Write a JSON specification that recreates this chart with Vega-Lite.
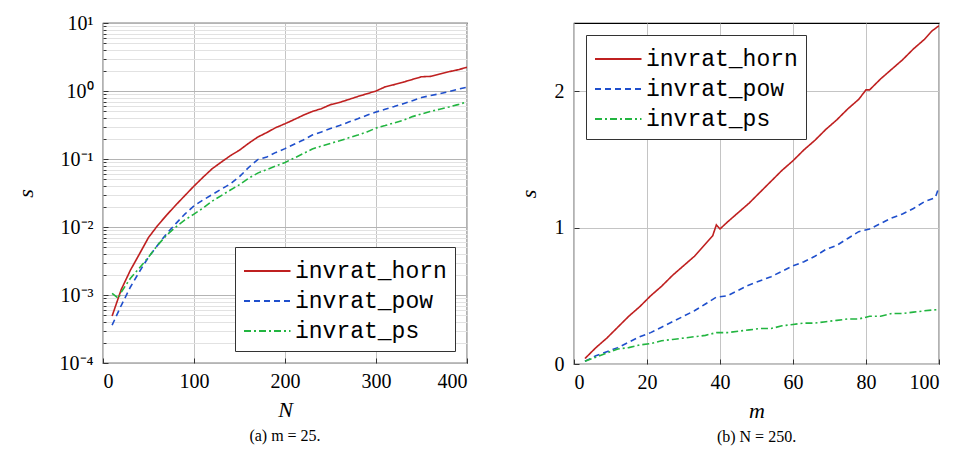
{
  "$schema": "https://vega.github.io/schema/vega-lite/v6.json",
  "padding": {"left": 13, "top": 12, "right": 0, "bottom": 0},
  "bounds": "flush",
  "spacing": 107,
  "config": {
    "view": {"stroke": "black", "strokeWidth": 1.2},
    "axis": {"labelFont": "Liberation Serif", "labelFontSize": 20, "labelColor": "black", "titleFont": "Liberation Serif", "titleFontStyle": "italic", "titleFontWeight": "normal", "titleFontSize": 22, "titleColor": "black", "domain": false, "ticks": true, "tickSize": -5, "tickColor": "#333", "labelOverlap": false},
    "title": {"font": "Liberation Serif", "fontSize": 16, "fontWeight": "normal", "color": "black"},
    "legend": {"title": null, "offset": 12, "fillColor": "white", "strokeColor": "#333", "padding": 8, "labelFont": "Liberation Mono", "labelFontSize": 23, "labelColor": "black", "symbolType": "M-1,0H2.1", "symbolSize": 900, "symbolStrokeWidth": 2, "symbolFillColor": "transparent", "labelOffset": 20, "rowPadding": 2}
  },
  "resolve": {"scale": {"color": "independent", "strokeDash": "independent"}, "legend": {"color": "independent", "strokeDash": "independent"}},
  "hconcat": [
    {
      "width": 364,
      "height": 340,
      "title": {"text": "(a) m = 25.", "orient": "bottom", "offset": 8},
      "data": {"values": [
        {"N": 10, "s": 0.00049, "k": "invrat_horn"},
        {"N": 20, "s": 0.0012, "k": "invrat_horn"},
        {"N": 30, "s": 0.0023, "k": "invrat_horn"},
        {"N": 40, "s": 0.0040, "k": "invrat_horn"},
        {"N": 50, "s": 0.0070, "k": "invrat_horn"},
        {"N": 60, "s": 0.0105, "k": "invrat_horn"},
        {"N": 70, "s": 0.015, "k": "invrat_horn"},
        {"N": 80, "s": 0.021, "k": "invrat_horn"},
        {"N": 90, "s": 0.029, "k": "invrat_horn"},
        {"N": 100, "s": 0.040, "k": "invrat_horn"},
        {"N": 110, "s": 0.054, "k": "invrat_horn"},
        {"N": 120, "s": 0.072, "k": "invrat_horn"},
        {"N": 130, "s": 0.090, "k": "invrat_horn"},
        {"N": 140, "s": 0.112, "k": "invrat_horn"},
        {"N": 150, "s": 0.135, "k": "invrat_horn"},
        {"N": 160, "s": 0.17, "k": "invrat_horn"},
        {"N": 170, "s": 0.21, "k": "invrat_horn"},
        {"N": 180, "s": 0.245, "k": "invrat_horn"},
        {"N": 190, "s": 0.29, "k": "invrat_horn"},
        {"N": 200, "s": 0.33, "k": "invrat_horn"},
        {"N": 210, "s": 0.38, "k": "invrat_horn"},
        {"N": 220, "s": 0.44, "k": "invrat_horn"},
        {"N": 230, "s": 0.50, "k": "invrat_horn"},
        {"N": 240, "s": 0.55, "k": "invrat_horn"},
        {"N": 250, "s": 0.63, "k": "invrat_horn"},
        {"N": 260, "s": 0.68, "k": "invrat_horn"},
        {"N": 270, "s": 0.75, "k": "invrat_horn"},
        {"N": 280, "s": 0.83, "k": "invrat_horn"},
        {"N": 290, "s": 0.91, "k": "invrat_horn"},
        {"N": 300, "s": 1.0, "k": "invrat_horn"},
        {"N": 310, "s": 1.15, "k": "invrat_horn"},
        {"N": 320, "s": 1.24, "k": "invrat_horn"},
        {"N": 330, "s": 1.35, "k": "invrat_horn"},
        {"N": 340, "s": 1.48, "k": "invrat_horn"},
        {"N": 350, "s": 1.62, "k": "invrat_horn"},
        {"N": 360, "s": 1.64, "k": "invrat_horn"},
        {"N": 370, "s": 1.78, "k": "invrat_horn"},
        {"N": 380, "s": 1.92, "k": "invrat_horn"},
        {"N": 390, "s": 2.05, "k": "invrat_horn"},
        {"N": 400, "s": 2.23, "k": "invrat_horn"},
        {"N": 10, "s": 0.00036, "k": "invrat_pow"},
        {"N": 20, "s": 0.00070, "k": "invrat_pow"},
        {"N": 30, "s": 0.0013, "k": "invrat_pow"},
        {"N": 40, "s": 0.0022, "k": "invrat_pow"},
        {"N": 50, "s": 0.0036, "k": "invrat_pow"},
        {"N": 60, "s": 0.0054, "k": "invrat_pow"},
        {"N": 70, "s": 0.0080, "k": "invrat_pow"},
        {"N": 80, "s": 0.0112, "k": "invrat_pow"},
        {"N": 90, "s": 0.0155, "k": "invrat_pow"},
        {"N": 100, "s": 0.0205, "k": "invrat_pow"},
        {"N": 110, "s": 0.025, "k": "invrat_pow"},
        {"N": 120, "s": 0.030, "k": "invrat_pow"},
        {"N": 130, "s": 0.036, "k": "invrat_pow"},
        {"N": 140, "s": 0.043, "k": "invrat_pow"},
        {"N": 150, "s": 0.055, "k": "invrat_pow"},
        {"N": 160, "s": 0.075, "k": "invrat_pow"},
        {"N": 170, "s": 0.098, "k": "invrat_pow"},
        {"N": 180, "s": 0.107, "k": "invrat_pow"},
        {"N": 190, "s": 0.125, "k": "invrat_pow"},
        {"N": 200, "s": 0.142, "k": "invrat_pow"},
        {"N": 210, "s": 0.165, "k": "invrat_pow"},
        {"N": 220, "s": 0.19, "k": "invrat_pow"},
        {"N": 230, "s": 0.225, "k": "invrat_pow"},
        {"N": 240, "s": 0.25, "k": "invrat_pow"},
        {"N": 250, "s": 0.28, "k": "invrat_pow"},
        {"N": 260, "s": 0.31, "k": "invrat_pow"},
        {"N": 270, "s": 0.35, "k": "invrat_pow"},
        {"N": 280, "s": 0.39, "k": "invrat_pow"},
        {"N": 290, "s": 0.44, "k": "invrat_pow"},
        {"N": 300, "s": 0.49, "k": "invrat_pow"},
        {"N": 310, "s": 0.54, "k": "invrat_pow"},
        {"N": 320, "s": 0.59, "k": "invrat_pow"},
        {"N": 330, "s": 0.65, "k": "invrat_pow"},
        {"N": 340, "s": 0.72, "k": "invrat_pow"},
        {"N": 350, "s": 0.80, "k": "invrat_pow"},
        {"N": 360, "s": 0.86, "k": "invrat_pow"},
        {"N": 370, "s": 0.91, "k": "invrat_pow"},
        {"N": 380, "s": 0.98, "k": "invrat_pow"},
        {"N": 390, "s": 1.06, "k": "invrat_pow"},
        {"N": 400, "s": 1.14, "k": "invrat_pow"},
        {"N": 10, "s": 0.00106, "k": "invrat_ps"},
        {"N": 17, "s": 0.00089, "k": "invrat_ps"},
        {"N": 20, "s": 0.00110, "k": "invrat_ps"},
        {"N": 30, "s": 0.00175, "k": "invrat_ps"},
        {"N": 40, "s": 0.0025, "k": "invrat_ps"},
        {"N": 50, "s": 0.0036, "k": "invrat_ps"},
        {"N": 60, "s": 0.0054, "k": "invrat_ps"},
        {"N": 70, "s": 0.0076, "k": "invrat_ps"},
        {"N": 80, "s": 0.0100, "k": "invrat_ps"},
        {"N": 90, "s": 0.0127, "k": "invrat_ps"},
        {"N": 100, "s": 0.0155, "k": "invrat_ps"},
        {"N": 110, "s": 0.019, "k": "invrat_ps"},
        {"N": 120, "s": 0.024, "k": "invrat_ps"},
        {"N": 130, "s": 0.029, "k": "invrat_ps"},
        {"N": 140, "s": 0.035, "k": "invrat_ps"},
        {"N": 150, "s": 0.042, "k": "invrat_ps"},
        {"N": 160, "s": 0.052, "k": "invrat_ps"},
        {"N": 170, "s": 0.062, "k": "invrat_ps"},
        {"N": 180, "s": 0.070, "k": "invrat_ps"},
        {"N": 190, "s": 0.079, "k": "invrat_ps"},
        {"N": 200, "s": 0.089, "k": "invrat_ps"},
        {"N": 210, "s": 0.103, "k": "invrat_ps"},
        {"N": 220, "s": 0.12, "k": "invrat_ps"},
        {"N": 230, "s": 0.14, "k": "invrat_ps"},
        {"N": 240, "s": 0.155, "k": "invrat_ps"},
        {"N": 250, "s": 0.17, "k": "invrat_ps"},
        {"N": 260, "s": 0.185, "k": "invrat_ps"},
        {"N": 270, "s": 0.205, "k": "invrat_ps"},
        {"N": 280, "s": 0.225, "k": "invrat_ps"},
        {"N": 290, "s": 0.25, "k": "invrat_ps"},
        {"N": 300, "s": 0.285, "k": "invrat_ps"},
        {"N": 310, "s": 0.31, "k": "invrat_ps"},
        {"N": 320, "s": 0.34, "k": "invrat_ps"},
        {"N": 330, "s": 0.37, "k": "invrat_ps"},
        {"N": 340, "s": 0.42, "k": "invrat_ps"},
        {"N": 350, "s": 0.46, "k": "invrat_ps"},
        {"N": 360, "s": 0.50, "k": "invrat_ps"},
        {"N": 370, "s": 0.54, "k": "invrat_ps"},
        {"N": 380, "s": 0.58, "k": "invrat_ps"},
        {"N": 390, "s": 0.63, "k": "invrat_ps"},
        {"N": 400, "s": 0.69, "k": "invrat_ps"}
      ]},
      "mark": {"type": "line", "strokeWidth": 1.6, "clip": true},
      "encoding": {
        "x": {"field": "N", "type": "quantitative", "scale": {"domain": [0, 400], "nice": false},
              "axis": {"title": "N", "values": [0, 100, 200, 300, 400], "grid": true, "gridColor": "#c4c4c4", "labelPadding": 13, "titlePadding": 8}},
        "y": {"field": "s", "type": "quantitative", "scale": {"type": "log", "domain": [0.0001, 10], "nice": false},
              "axis": {"title": "s", "titlePadding": 22, "labelPadding": 15, "grid": true,
                       "values": [0.0001,0.0002,0.0003,0.0004,0.0005,0.0006,0.0007,0.0008,0.0009,0.001,0.002,0.003,0.004,0.005,0.006,0.007,0.008,0.009,0.01,0.02,0.03,0.04,0.05,0.06,0.07,0.08,0.09,0.1,0.2,0.3,0.4,0.5,0.6,0.7,0.8,0.9,1,2,3,4,5,6,7,8,9,10],
                       "labelExpr": "abs(log(datum.value)/LN10 - round(log(datum.value)/LN10)) > 0.001 ? '' : (round(log(datum.value)/LN10) == 1 ? '10¹' : round(log(datum.value)/LN10) == 0 ? '10⁰' : round(log(datum.value)/LN10) == -1 ? '10⁻¹' : round(log(datum.value)/LN10) == -2 ? '10⁻²' : round(log(datum.value)/LN10) == -3 ? '10⁻³' : '10⁻⁴')",
                       "tickSize": {"condition": {"test": "abs(log(datum.value)/LN10 - round(log(datum.value)/LN10)) < 0.001", "value": -5}, "value": -3},
                       "gridColor": {"condition": {"test": "abs(log(datum.value)/LN10 - round(log(datum.value)/LN10)) < 0.001", "value": "#b4b4b4"}, "value": "#e2e2e2"}}},
        "color": {"field": "k", "type": "nominal",
                  "scale": {"domain": ["invrat_horn", "invrat_pow", "invrat_ps"], "range": ["#bf2020", "#1f4fcc", "#22b540"]},
                  "legend": {"orient": "bottom-right"}},
        "strokeDash": {"field": "k", "type": "nominal",
                  "scale": {"domain": ["invrat_horn", "invrat_pow", "invrat_ps"], "range": [[1, 0], [6, 4], [7, 3, 2, 3]]},
                  "legend": {"orient": "bottom-right"}}
      }
    },
    {
      "width": 365,
      "height": 341,
      "title": {"text": "(b) N = 250.", "orient": "bottom", "offset": 8},
      "data": {"values": [
        {"m": 3, "s": 0.04, "k": "invrat_horn"},
        {"m": 6, "s": 0.12, "k": "invrat_horn"},
        {"m": 9, "s": 0.19, "k": "invrat_horn"},
        {"m": 12, "s": 0.27, "k": "invrat_horn"},
        {"m": 15, "s": 0.35, "k": "invrat_horn"},
        {"m": 18, "s": 0.42, "k": "invrat_horn"},
        {"m": 21, "s": 0.50, "k": "invrat_horn"},
        {"m": 24, "s": 0.57, "k": "invrat_horn"},
        {"m": 27, "s": 0.65, "k": "invrat_horn"},
        {"m": 30, "s": 0.72, "k": "invrat_horn"},
        {"m": 33, "s": 0.79, "k": "invrat_horn"},
        {"m": 36, "s": 0.88, "k": "invrat_horn"},
        {"m": 38, "s": 0.94, "k": "invrat_horn"},
        {"m": 39, "s": 1.02, "k": "invrat_horn"},
        {"m": 40, "s": 0.99, "k": "invrat_horn"},
        {"m": 42, "s": 1.04, "k": "invrat_horn"},
        {"m": 45, "s": 1.11, "k": "invrat_horn"},
        {"m": 48, "s": 1.18, "k": "invrat_horn"},
        {"m": 51, "s": 1.26, "k": "invrat_horn"},
        {"m": 54, "s": 1.34, "k": "invrat_horn"},
        {"m": 57, "s": 1.42, "k": "invrat_horn"},
        {"m": 60, "s": 1.49, "k": "invrat_horn"},
        {"m": 63, "s": 1.57, "k": "invrat_horn"},
        {"m": 66, "s": 1.64, "k": "invrat_horn"},
        {"m": 69, "s": 1.72, "k": "invrat_horn"},
        {"m": 72, "s": 1.79, "k": "invrat_horn"},
        {"m": 75, "s": 1.87, "k": "invrat_horn"},
        {"m": 78, "s": 1.94, "k": "invrat_horn"},
        {"m": 80, "s": 2.01, "k": "invrat_horn"},
        {"m": 81, "s": 2.01, "k": "invrat_horn"},
        {"m": 84, "s": 2.09, "k": "invrat_horn"},
        {"m": 87, "s": 2.16, "k": "invrat_horn"},
        {"m": 90, "s": 2.23, "k": "invrat_horn"},
        {"m": 93, "s": 2.31, "k": "invrat_horn"},
        {"m": 96, "s": 2.38, "k": "invrat_horn"},
        {"m": 98, "s": 2.44, "k": "invrat_horn"},
        {"m": 100, "s": 2.48, "k": "invrat_horn"},
        {"m": 3, "s": 0.02, "k": "invrat_pow"},
        {"m": 6, "s": 0.06, "k": "invrat_pow"},
        {"m": 9, "s": 0.09, "k": "invrat_pow"},
        {"m": 12, "s": 0.12, "k": "invrat_pow"},
        {"m": 15, "s": 0.16, "k": "invrat_pow"},
        {"m": 18, "s": 0.20, "k": "invrat_pow"},
        {"m": 21, "s": 0.23, "k": "invrat_pow"},
        {"m": 24, "s": 0.27, "k": "invrat_pow"},
        {"m": 27, "s": 0.31, "k": "invrat_pow"},
        {"m": 30, "s": 0.35, "k": "invrat_pow"},
        {"m": 33, "s": 0.39, "k": "invrat_pow"},
        {"m": 36, "s": 0.44, "k": "invrat_pow"},
        {"m": 39, "s": 0.49, "k": "invrat_pow"},
        {"m": 42, "s": 0.50, "k": "invrat_pow"},
        {"m": 45, "s": 0.54, "k": "invrat_pow"},
        {"m": 48, "s": 0.58, "k": "invrat_pow"},
        {"m": 51, "s": 0.61, "k": "invrat_pow"},
        {"m": 54, "s": 0.64, "k": "invrat_pow"},
        {"m": 57, "s": 0.68, "k": "invrat_pow"},
        {"m": 60, "s": 0.72, "k": "invrat_pow"},
        {"m": 63, "s": 0.75, "k": "invrat_pow"},
        {"m": 66, "s": 0.79, "k": "invrat_pow"},
        {"m": 69, "s": 0.84, "k": "invrat_pow"},
        {"m": 72, "s": 0.87, "k": "invrat_pow"},
        {"m": 75, "s": 0.92, "k": "invrat_pow"},
        {"m": 78, "s": 0.97, "k": "invrat_pow"},
        {"m": 81, "s": 0.99, "k": "invrat_pow"},
        {"m": 84, "s": 1.03, "k": "invrat_pow"},
        {"m": 87, "s": 1.07, "k": "invrat_pow"},
        {"m": 90, "s": 1.10, "k": "invrat_pow"},
        {"m": 93, "s": 1.14, "k": "invrat_pow"},
        {"m": 96, "s": 1.19, "k": "invrat_pow"},
        {"m": 99, "s": 1.22, "k": "invrat_pow"},
        {"m": 100, "s": 1.30, "k": "invrat_pow"},
        {"m": 3, "s": 0.02, "k": "invrat_ps"},
        {"m": 6, "s": 0.05, "k": "invrat_ps"},
        {"m": 9, "s": 0.08, "k": "invrat_ps"},
        {"m": 12, "s": 0.11, "k": "invrat_ps"},
        {"m": 15, "s": 0.12, "k": "invrat_ps"},
        {"m": 18, "s": 0.14, "k": "invrat_ps"},
        {"m": 21, "s": 0.15, "k": "invrat_ps"},
        {"m": 24, "s": 0.17, "k": "invrat_ps"},
        {"m": 27, "s": 0.18, "k": "invrat_ps"},
        {"m": 30, "s": 0.19, "k": "invrat_ps"},
        {"m": 33, "s": 0.20, "k": "invrat_ps"},
        {"m": 36, "s": 0.21, "k": "invrat_ps"},
        {"m": 39, "s": 0.23, "k": "invrat_ps"},
        {"m": 42, "s": 0.23, "k": "invrat_ps"},
        {"m": 45, "s": 0.24, "k": "invrat_ps"},
        {"m": 48, "s": 0.25, "k": "invrat_ps"},
        {"m": 51, "s": 0.26, "k": "invrat_ps"},
        {"m": 54, "s": 0.26, "k": "invrat_ps"},
        {"m": 57, "s": 0.28, "k": "invrat_ps"},
        {"m": 60, "s": 0.29, "k": "invrat_ps"},
        {"m": 63, "s": 0.30, "k": "invrat_ps"},
        {"m": 66, "s": 0.30, "k": "invrat_ps"},
        {"m": 69, "s": 0.31, "k": "invrat_ps"},
        {"m": 72, "s": 0.32, "k": "invrat_ps"},
        {"m": 75, "s": 0.33, "k": "invrat_ps"},
        {"m": 78, "s": 0.33, "k": "invrat_ps"},
        {"m": 81, "s": 0.35, "k": "invrat_ps"},
        {"m": 84, "s": 0.35, "k": "invrat_ps"},
        {"m": 87, "s": 0.37, "k": "invrat_ps"},
        {"m": 90, "s": 0.37, "k": "invrat_ps"},
        {"m": 93, "s": 0.38, "k": "invrat_ps"},
        {"m": 96, "s": 0.39, "k": "invrat_ps"},
        {"m": 100, "s": 0.40, "k": "invrat_ps"}
      ]},
      "mark": {"type": "line", "strokeWidth": 1.6, "clip": true},
      "encoding": {
        "x": {"field": "m", "type": "quantitative", "scale": {"domain": [0, 100], "nice": false},
              "axis": {"title": "m", "values": [0, 20, 40, 60, 80, 100], "grid": true, "gridColor": "#c4c4c4", "labelPadding": 13, "titlePadding": 8}},
        "y": {"field": "s", "type": "quantitative", "scale": {"domain": [0, 2.5], "nice": false},
              "axis": {"title": "s", "values": [0, 1, 2], "grid": true, "gridColor": "#c4c4c4", "labelPadding": 15, "titlePadding": 14}},
        "color": {"field": "k", "type": "nominal",
                  "scale": {"domain": ["invrat_horn", "invrat_pow", "invrat_ps"], "range": ["#bf2020", "#1f4fcc", "#22b540"]},
                  "legend": {"orient": "top-left"}},
        "strokeDash": {"field": "k", "type": "nominal",
                  "scale": {"domain": ["invrat_horn", "invrat_pow", "invrat_ps"], "range": [[1, 0], [6, 4], [7, 3, 2, 3]]},
                  "legend": {"orient": "top-left"}}
      }
    }
  ]
}
